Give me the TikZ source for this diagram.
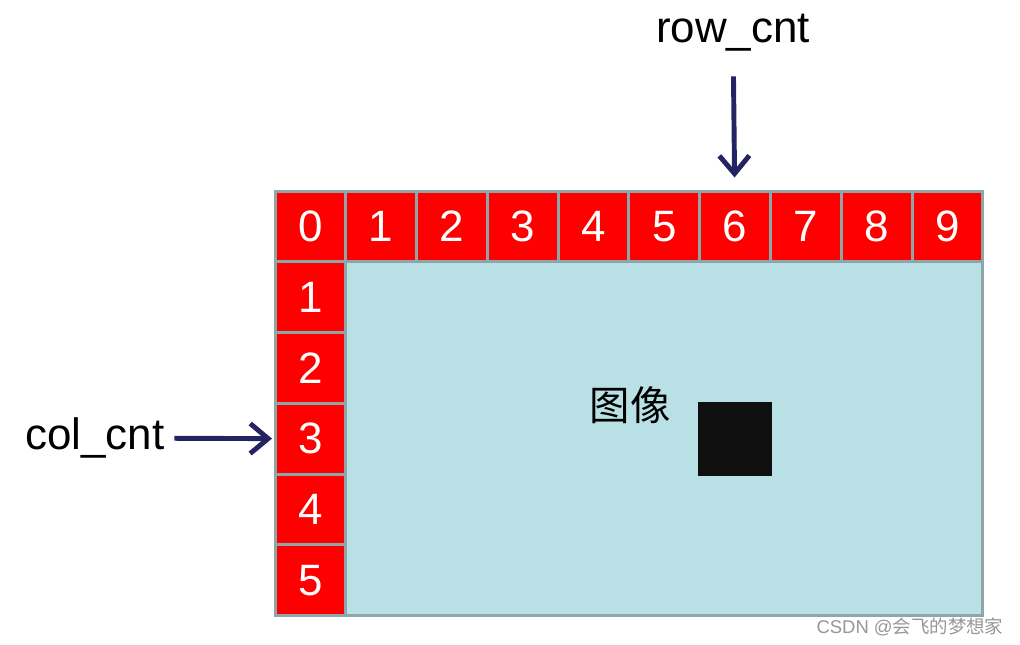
\documentclass[tikz,border=0pt]{standalone}
\usepackage{fontspec}
\setmainfont{Liberation Sans}
\newfontfamily\cjk{Noto Sans CJK SC}
\usetikzlibrary{arrows.meta,positioning}
\definecolor{cellred}{RGB}{255,0,0}
\definecolor{gridgray}{RGB}{140,166,170}
\definecolor{imgblue}{RGB}{185,224,228}
\definecolor{ptrnavy}{RGB}{36,36,99}
\definecolor{markgray}{RGB}{150,150,150}

\begin{document}
\begin{tikzpicture}[x=0.02cm,y=-0.02cm,
  cell/.style={draw=gridgray,line width=1.7pt,fill=cellred,text=white,minimum size=1.416cm,outer sep=0pt,inner sep=0pt,font=\fontsize{25}{30}\selectfont},
  ptr/.style={draw=ptrnavy,line width=2.8pt,-{Straight Barb[length=3.6mm,width=6mm]}},
  lbl/.style={font=\fontsize{25}{30}\selectfont,inner sep=2pt}]
  \useasboundingbox (0,0) rectangle (1020,645);
  % image area under the counters
  \node[draw=gridgray,line width=1.7pt,fill=imgblue,anchor=north west,minimum width=12.744cm,minimum height=7.08cm,outer sep=0pt] (img) at (345.8,262) {};
  \node[cell] (c0) at (310.4,226.4) {0};
  \foreach \i [count=\j from 0] in {1,...,9}
    \node[cell,right=0pt of c\j] (c\i) {\i};
  \node[cell,below=0pt of c0] (r1) {1};
  \foreach \i [count=\j from 1] in {2,...,5}
    \node[cell,below=0pt of r\j] (r\i) {\i};
  \node[fill=black!94,minimum size=1.48cm,inner sep=0pt] (pix) at (c6 |- r3) {};
  \node[font=\cjk\fontsize{23}{28}\selectfont] (imgtxt) at (630,405) {图像};
  % counters
  \node[lbl] (rowcnt) at (733,33) {row\_cnt};
  \node[lbl] (colcnt) at (95,438) {col\_cnt};
  \draw[ptr,shorten <=0.42cm,shorten >=0.27cm] (rowcnt) -- (c6);
  \draw[ptr,shorten <=0.12cm,shorten >=0.06cm] (colcnt) -- (r3);
  \node[text=markgray,font=\fontsize{10.5}{12}\selectfont] (mark) at (910,627) {CSDN @{\cjk 会飞的梦想家}};
\end{tikzpicture}
\end{document}
